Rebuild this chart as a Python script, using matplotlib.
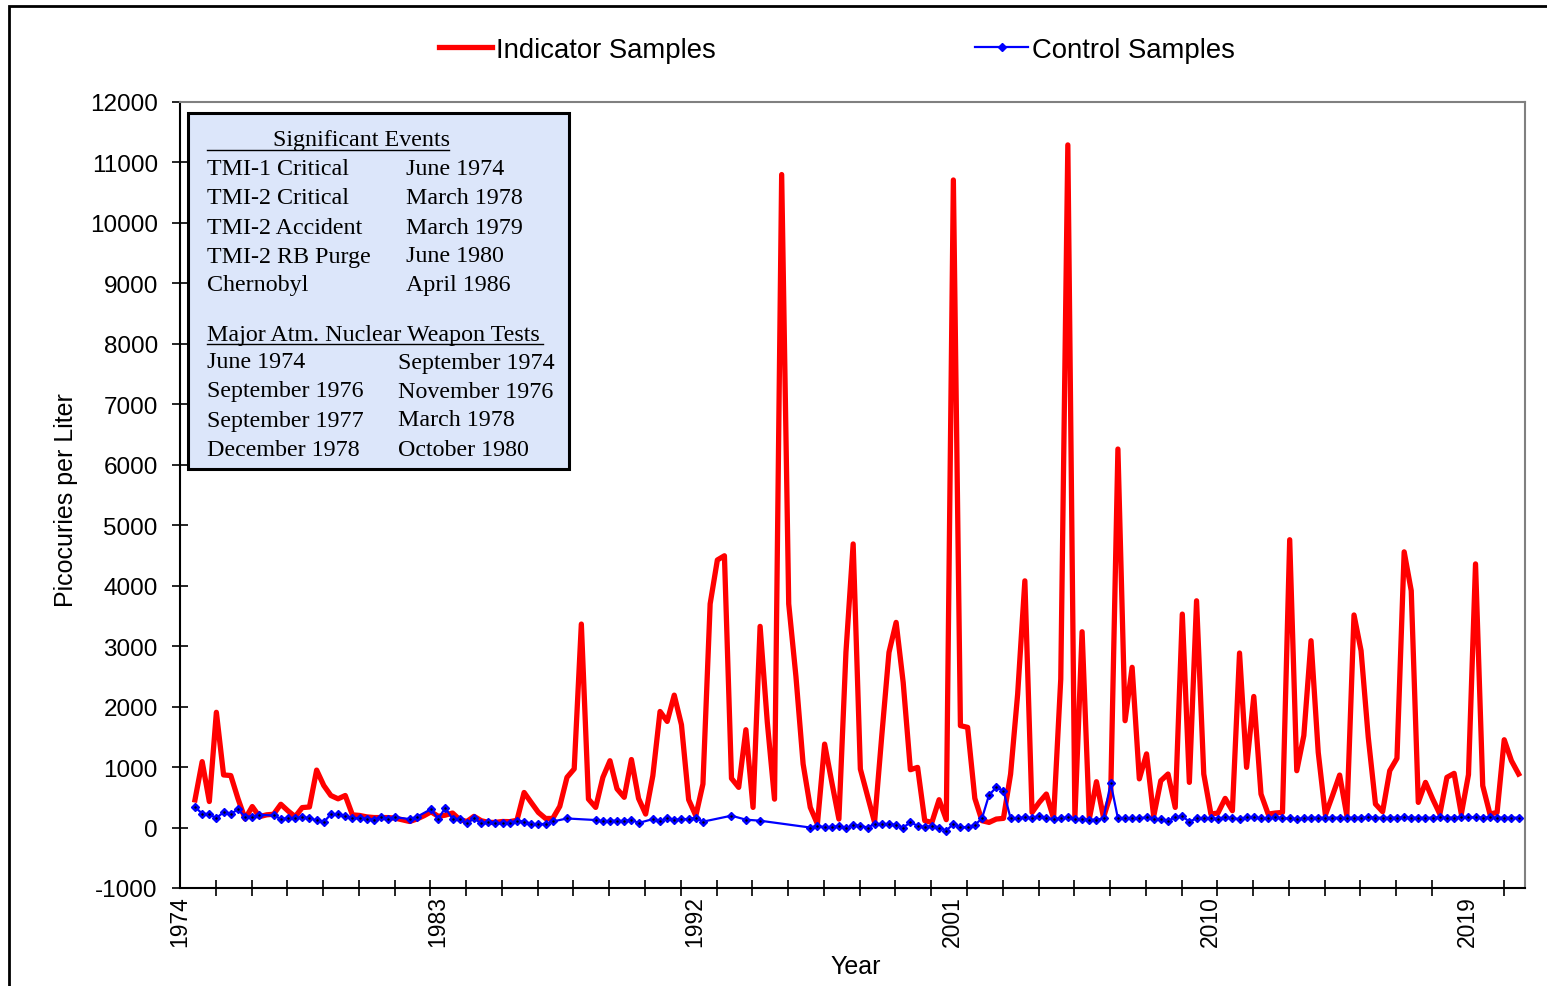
import numpy as np
import pandas as pd
import matplotlib
matplotlib.use("Agg")
import matplotlib.pyplot as plt
from matplotlib.patches import Rectangle
from matplotlib.lines import Line2D

plt.rcParams['font.family'] = ['Liberation Sans', 'DejaVu Sans']
plt.rcParams['axes.unicode_minus'] = False

# quarterly samples, starting mid 1974
sample_dates = pd.date_range('1974-06-01', periods=186, freq='3MS') + pd.Timedelta(days=40)
years = np.asarray(sample_dates.year + (sample_dates.dayofyear - 1) / 365.25)

indicator = [
    457, 1090, 430, 1906, 870, 860, 480, 143, 347, 180,
    210, 220, 385, 275, 180, 330, 340, 950, 695, 530,
    475, 530, 210, 200, 176, 165, 165, 165, 155, 127,
    100, 140, 195, 260, 185, 205, 240, 130, 100, 185,
    113, 85, 85, 100, 97, 120, 580, 415, 250, 150,
    150, 350, 830, 970, 3365, 470, 333, 830, 1105, 640,
    500, 1125, 480, 223, 857, 1920, 1755, 2190, 1700, 460,
    195, 720, 3700, 4425, 4495, 813, 664, 1618, 333, 3327,
    1740, 470, 10800, 3700, 2500, 1050, 333, 58, 1380, 747,
    140, 2900, 4690, 967, 526, 85, 1518, 2897, 3393, 2400,
    956, 995, 113, 85, 460, 130, 10710, 1685, 1657, 482,
    113, 85, 140, 152, 885, 2207, 4080, 250, 416, 554,
    152, 2456, 11290, 168, 3238, 140, 758, 168, 550, 6260,
    1767, 2650, 805, 1218, 185, 774, 885, 333, 3530, 747,
    3750, 885, 223, 240, 482, 278, 2886, 995, 2168, 554,
    223, 240, 250, 4760, 940, 1520, 3090, 1243, 207, 526,
    868, 196, 3516, 2925, 1491, 389, 262, 940, 1144, 4560,
    3917, 416, 747, 471, 223, 830, 896, 223, 874, 4360,
    692, 223, 250, 1452, 1105, 885,
]

nan = np.nan
control = [
    340, 230, 220, 155, 255, 225, 300, 180, 180, 210,
    nan, 200, 143, 155, 155, 170, 155, 120, 90, 220,
    220, 187, 155, 155, 143, 132, 170, 143, 170, nan,
    140, 175, nan, 305, 140, 330, 140, 140, 70, 150,
    70, 85, 75, 75, 75, 113, 97, 58, 58, 58,
    100, nan, 150, nan, nan, nan, 124, 100, 113, 113,
    107, 130, 75, nan, 140, 107, 150, 124, 140, 140,
    163, 97, nan, nan, nan, 196, nan, 130, nan, 113,
    nan, nan, nan, nan, nan, nan, 0, 30, 3, 14,
    20, -14, 41, 30, 0, 58, 58, 58, 41, 0,
    85, 30, 3, 30, 0, -50, 58, 3, 8, 41,
    152, 538, 664, 609, 152, 152, 168, 152, 196, 152,
    140, 152, 168, 140, 140, 130, 130, 152, 736, 152,
    152, 152, 152, 168, 140, 140, 113, 168, 185, 97,
    152, 152, 152, 140, 168, 152, 140, 168, 168, 152,
    152, 168, 152, 152, 140, 152, 163, 163, 160, 165,
    163, 160, 165, 163, 168, 165, 160, 163, 165, 168,
    165, 163, 160, 165, 168, 163, 165, 168, 170, 168,
    165, 168, 165, 163, 163, 165,
]

year_labels = [1974, 1983, 1992, 2001, 2010, 2019]

events = [
    ("TMI-1 Critical", "June 1974"),
    ("TMI-2 Critical", "March 1978"),
    ("TMI-2 Accident", "March 1979"),
    ("TMI-2 RB Purge", "June 1980"),
    ("Chernobyl", "April 1986"),
]
tests = [
    ("June 1974", "September 1974"),
    ("September 1976", "November 1976"),
    ("September 1977", "March 1978"),
    ("December 1978", "October 1980"),
]

W, H = 1547, 987


def px(x, y):
    return x / W, 1 - y / H


fig = plt.figure(figsize=(W / 100, H / 100), dpi=100)
ax = fig.add_axes([180 / W, 1 - 889 / H, (1525 - 180) / W, (889 - 103) / H])

ax.plot(years, indicator, color='red', lw=3.8, solid_joinstyle='round', zorder=2)

ctrl = np.array(control, dtype=float)
ok = ~np.isnan(ctrl)
ax.plot(years[ok], ctrl[ok], color='blue', lw=1.6, marker='D', ms=4,
        mfc='blue', mec='blue', zorder=3)
ax.plot(years[ok], ctrl[ok], ls='none', marker='.', ms=1.5, color='black', zorder=4)

ax.set_xlim(1974, 2021)
ax.set_ylim(-1000, 12000)
ax.set_yticks(np.arange(-1000, 12001, 1000))
ax.set_xticks(year_labels)
ax.set_xticks(np.arange(1974, 2021.01, 1.25), minor=True)
ax.tick_params(axis='x', which='major', length=0, pad=5, labelsize=16.5, labelrotation=90)
ax.tick_params(axis='x', which='minor', direction='inout', length=12, width=1.2)
ax.tick_params(axis='y', direction='inout', length=12, width=1.2, labelsize=17.5, pad=10)

for side in ('left', 'bottom'):
    ax.spines[side].set_linewidth(1.5)
    ax.spines[side].set_color('black')
for side in ('top', 'right'):
    ax.spines[side].set_linewidth(1.5)
    ax.spines[side].set_color('#808080')

fig.text(*px(66, 500), 'Picocuries per Liter', rotation=90, ha='center', va='center', fontsize=18)
fig.text(*px(856, 967), 'Year', ha='center', va='center', fontsize=18)

handles = [
    Line2D([], [], color='red', lw=3.8),
    Line2D([], [], color='blue', lw=1.6, marker='D', ms=4),
]
fig.legend(handles, ['Indicator Samples', 'Control Samples'], loc='center',
           bbox_to_anchor=px(837, 51), ncol=2, frameon=False, fontsize=19.8,
           handlelength=1.95, handletextpad=0.15, columnspacing=9.4)

# significant events box
x0, y0 = px(188, 470)
box = Rectangle((x0, y0), (569 - 188) / W, (470 - 114) / H, transform=fig.transFigure,
                facecolor='#DCE6FA', edgecolor='black', lw=2.2, zorder=5)
fig.add_artist(box)

serif = ['Liberation Serif', 'DejaVu Serif']
fs = 17.3
fig.text(*px(273, 141), 'Significant Events', family=serif, fontsize=fs, va='center', zorder=6)
fig.add_artist(Line2D([207 / W, 449 / W], [1 - 151 / H] * 2, transform=fig.transFigure,
                      color='black', lw=1, zorder=6))
for k, (name, date) in enumerate(events):
    y = 170 + 29 * k
    fig.text(*px(207, y), name, family=serif, fontsize=fs, va='center', zorder=6)
    fig.text(*px(406, y), date, family=serif, fontsize=fs, va='center', zorder=6)

fig.text(*px(207, 335), 'Major Atm. Nuclear Weapon Tests', family=serif, fontsize=fs,
         va='center', zorder=6)
fig.add_artist(Line2D([207 / W, 543 / W], [1 - 345 / H] * 2, transform=fig.transFigure,
                      color='black', lw=1, zorder=6))
for k, (left, right) in enumerate(tests):
    y = 363 + 29 * k
    fig.text(*px(207, y), left, family=serif, fontsize=fs, va='center', zorder=6)
    fig.text(*px(398, y), right, family=serif, fontsize=fs, va='center', zorder=6)

# outer chart border
fig.add_artist(Rectangle(px(9, 1100), 2, (1100 - 7) / H, transform=fig.transFigure,
                         fill=False, edgecolor='black', lw=2, clip_on=False))

fig.savefig('out.png', dpi=100)
